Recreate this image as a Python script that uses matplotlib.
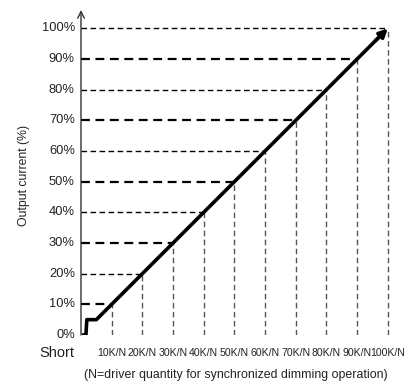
import matplotlib
matplotlib.use("Agg")
import matplotlib.pyplot as plt

# data
levels = [10, 20, 30, 40, 50, 60, 70, 80, 90, 100]
x_labels = ["10K/N", "20K/N", "30K/N", "40K/N", "50K/N", "60K/N", "70K/N", "80K/N", "90K/N", "100K/N"]
y_labels = ["0%", "10%", "20%", "30%", "40%", "50%", "60%", "70%", "80%", "90%", "100%"]
curve_x = [0.3, 1.6, 1.9, 5.0, 97.0]
curve_y = [0, 0, 5, 5, 97.0]

plt.rcParams['font.family'] = ['Liberation Sans', 'DejaVu Sans']

fig = plt.figure(figsize=(4.06, 3.84), dpi=100)
ax = fig.add_axes([81 / 406, 49 / 384, 316 / 406, 325 / 384])
ax.set_xlim(0, 103)
ax.set_ylim(0, 106)

# dashed guides
for i, v in enumerate(levels):
    lw = 1.6 if i % 2 == 0 else 1.0
    ax.plot([0, v], [v, v], color="black", lw=lw, ls=(0, (4, 2.5)), zorder=1)
    ax.plot([v, v], [0, v], color="#555555", lw=1.0, ls=(0, (4, 2.5)), zorder=1)

# main curve
ax.plot(curve_x, curve_y, color="black", lw=2.6, solid_capstyle="butt", zorder=3)
ax.annotate("", xy=(100, 100), xytext=(96, 96),
            arrowprops=dict(arrowstyle="-|>", color="black", lw=2.6,
                            mutation_scale=12, shrinkA=0, shrinkB=0), zorder=4)

# y axis with open arrow
ax.annotate("", xy=(0, 106), xytext=(0, 0),
            arrowprops=dict(arrowstyle="->", color="#333333", lw=1.0,
                            mutation_scale=12, shrinkA=0, shrinkB=0),
            annotation_clip=False)

for s in ax.spines.values():
    s.set_visible(False)
ax.set_xticks([])
ax.set_yticks([])

for v, lab in zip(range(0, 101, 10), y_labels):
    ax.text(-2, v, lab, ha="right", va="center", fontsize=9.3, color="#222222")

ax.text(-2.3, -5.8, "Short", ha="right", va="center", fontsize=10.5, color="#222222")
for v, lab in zip(levels, x_labels):
    ax.text(v, -5.8, lab, ha="center", va="center", fontsize=7.6, color="#222222")

ax.text(50.5, -13.0, "(N=driver quantity for synchronized dimming operation)",
        ha="center", va="center", fontsize=8.9, color="#222222")

fig.text(24 / 406, 1 - 175 / 384, "Output current (%)", rotation=90,
         ha="center", va="center", fontsize=8.8, color="#222222")

fig.savefig("out.png", dpi=100)
